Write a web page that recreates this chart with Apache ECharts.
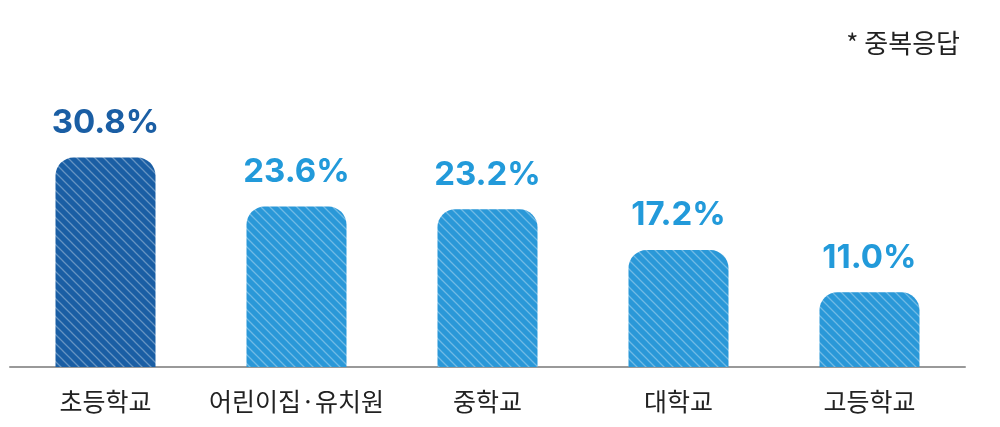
<!DOCTYPE html>
<html>
<head>
<meta charset="utf-8">
<script src="https://cdn.jsdelivr.net/npm/echarts@6/dist/echarts.min.js"></script>
<style>
  html, body { margin: 0; padding: 0; background: #fff; }
  #chart { width: 1000px; height: 427px; }
</style>
</head>
<body>
<div id="chart"></div>
<script>
// data
const categories = ['초등학교', '어린이집·유치원', '중학교', '대학교', '고등학교'];
const values = [30.8, 23.6, 23.2, 17.2, 11.0];
const barColors = ['#1a5ea4', '#2a98d8', '#2a98d8', '#2a98d8', '#2a98d8'];
const labelColors = ['#1a5ea4', '#229ada', '#229ada', '#229ada', '#229ada'];

// diagonal hatch pattern
function hatch(base) {
  const c = document.createElement('canvas');
  c.width = 9; c.height = 9;
  const g = c.getContext('2d');
  g.fillStyle = base;
  g.fillRect(0, 0, 9, 9);
  g.strokeStyle = 'rgba(255,255,255,0.33)';
  g.lineWidth = 1.3;
  g.beginPath();
  g.moveTo(-2, -2); g.lineTo(11, 11);
  g.moveTo(-11, -2); g.lineTo(2, 11);
  g.moveTo(7, -2); g.lineTo(20, 11);
  g.stroke();
  return { image: c, repeat: 'repeat' };
}

const chart = echarts.init(document.getElementById('chart'));
chart.setOption({
  animation: false,
  grid: { left: 10, right: 35, top: 95, bottom: 60 },
  graphic: [{
    type: 'text', right: 40, top: 30,
    style: { text: '* 중복응답', fontSize: 26, fill: '#222', fontFamily: 'Noto Sans CJK KR' }
  }],
  xAxis: {
    type: 'category',
    data: categories,
    axisTick: { show: false },
    axisLine: { lineStyle: { color: '#999', width: 2 } },
    axisLabel: { interval: 0, fontSize: 25, color: '#222', margin: 22, fontFamily: 'Noto Sans CJK KR' }
  },
  yAxis: { type: 'value', min: 0, max: 40, show: false, splitLine: { show: false } },
  series: [{
    type: 'bar',
    barWidth: 100,
    data: values.map((v, i) => ({
      value: v,
      itemStyle: { color: hatch(barColors[i]) },
      label: { color: labelColors[i] }
    })),
    itemStyle: { borderRadius: [18, 18, 0, 0] },
    label: {
      show: true, position: 'top', distance: 18,
      formatter: p => p.value.toFixed(1) + '%',
      fontSize: 33, fontWeight: 'bold', fontFamily: 'Inter'
    }
  }]
});
</script>
</body>
</html>
